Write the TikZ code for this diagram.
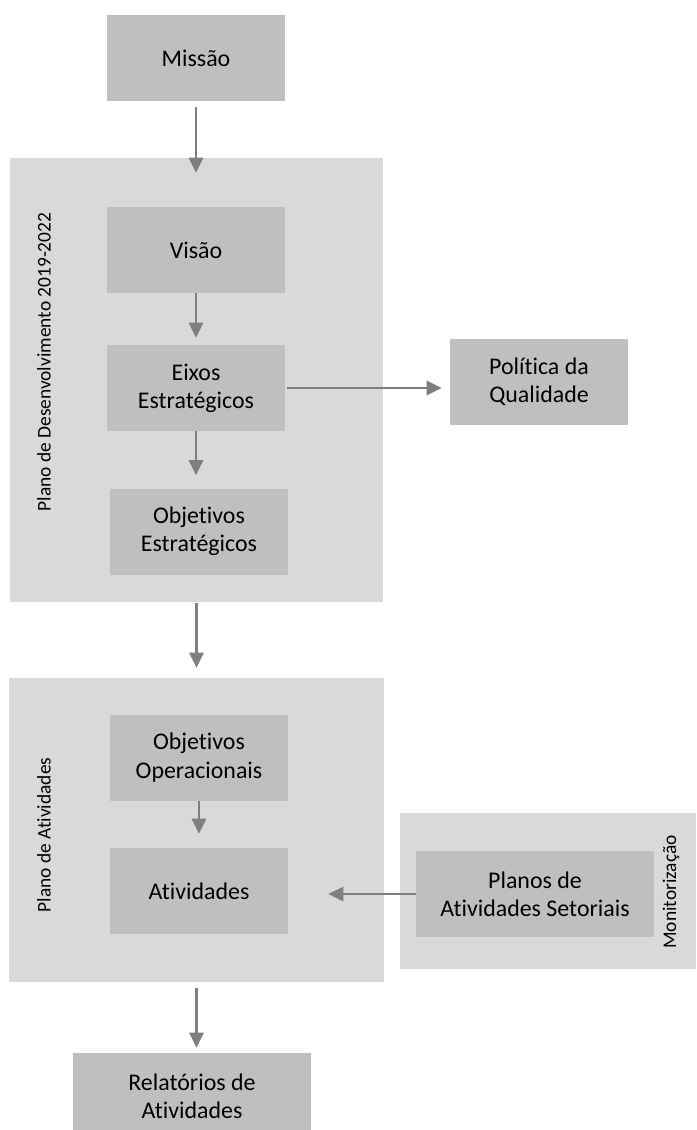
\documentclass[tikz,border=0pt]{standalone}
\usepackage{fontspec}
\setmainfont[Ligatures=NoCommon]{Carlito}
\usetikzlibrary{arrows.meta}
\definecolor{boxgray}{HTML}{BFBFBF}
\definecolor{panelgray}{HTML}{D9D9D9}
\definecolor{arrowgray}{HTML}{7F7F7F}
\begin{document}
\begin{tikzpicture}[
    box/.style={fill=boxgray, minimum width=4.45cm, minimum height=2.15cm, inner sep=0pt, align=center, font=\fontsize{17}{20.1}\selectfont},
    widebox/.style={box, minimum width=5.95cm},
    panel/.style={fill=panelgray, inner sep=0pt},
    sidelabel/.style={rotate=90, font=\fontsize{13.8}{16}\selectfont},
    flow/.style={draw=arrowgray, line width=0.068cm, -{Triangle[length=0.375cm,width=0.35cm]}}]
    \useasboundingbox (0,0) rectangle (17.4,-28.25);
    \node[panel, minimum width=9.325cm, minimum height=11.1cm] (pdes) at (4.9125,-9.5) {};
    \node[panel, minimum width=9.375cm, minimum height=7.6cm] (pativ) at (4.9125,-20.75) {};
    \node[panel, minimum width=7.4cm, minimum height=3.9cm] (monit) at (13.7,-22.275) {};
    \node[sidelabel] (pdeslabel) at (1.1,-9.05) {Plano de Desenvolvimento 2019-2022};
    \node[sidelabel] (pativlabel) at (1.1,-20.875) {Plano de Atividades};
    \node[sidelabel] (monitlabel) at (16.775,-22.3) {Monitorização};
    \node[box] (missao) at (4.9,-1.45) {Missão};
    \node[box] (visao) at (4.9,-6.25) {Visão};
    \node[box] (eixos) at (4.9,-9.7) {Eixos\\Estratégicos};
    \node[box] (politica) at (13.475,-9.55) {Política da\\Qualidade};
    \node[box] (objest) at (4.975,-13.2875) {Objetivos\\Estratégicos};
    \node[box] (objop) at (4.975,-18.9375) {Objetivos\\Operacionais};
    \node[box] (ativ) at (4.975,-22.275) {Atividades};
    \node[widebox] (planos) at (13.375,-22.35) {Planos de\\Atividades Setoriais};
    \node[widebox] (relat) at (4.8,-27.4) {Relatórios de\\Atividades};
    \draw[flow, shorten <=0.15cm, shorten >=0.85cm] (missao.south) -- (visao.north);
    \draw[flow, shorten >=0.175cm] (visao.south) -- (eixos.north);
    \draw[flow, shorten <=0.05cm, shorten >=0.2cm] (eixos.east) -- (eixos.east -| politica.west);
    \draw[flow, shorten >=0.325cm] (eixos.south) -- (eixos.south |- objest.north);
    \draw[flow, shorten <=0.03cm, shorten >=0.25cm] (pdes.south) -- (pativ.north);
    \draw[flow, shorten >=0.35cm] (objop.south) -- (ativ.north);
    \draw[flow, shorten >=1cm] (planos.west) -- (planos.west -| ativ.east);
    \draw[flow, shorten <=0.15cm, shorten >=0.125cm] (pativ.south) -- (pativ.south |- relat.north);
\end{tikzpicture}
\end{document}
